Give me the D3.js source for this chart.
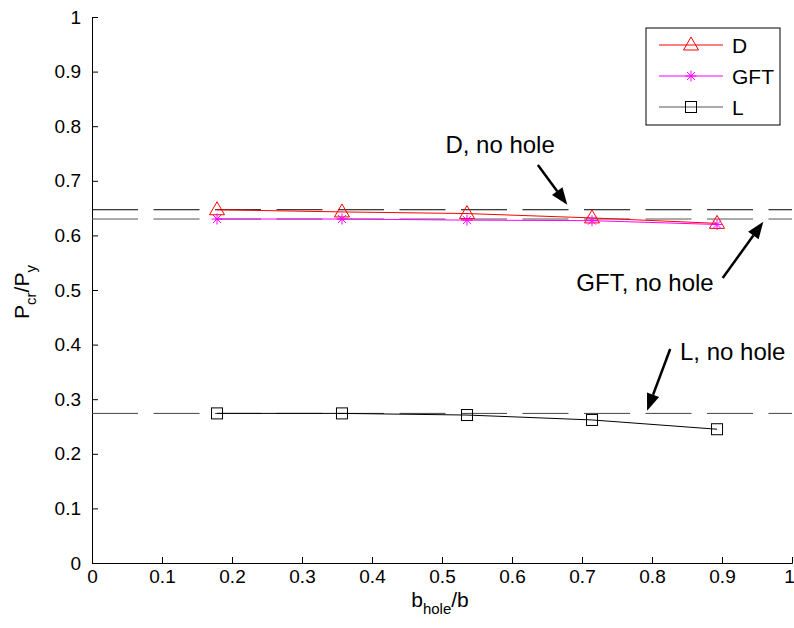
<!DOCTYPE html>
<html><head><meta charset="utf-8">
<script src="https://cdn.jsdelivr.net/npm/d3@7"></script>
<style>body{margin:0;background:#fff}svg{display:block}text{font-family:"Liberation Sans",Arial,sans-serif}</style>
</head><body>
<script>
const xVals = [0.1786, 0.3571, 0.5357, 0.7143, 0.8929];
const dVals = [0.647, 0.643, 0.640, 0.632, 0.622];
const gftVals = [0.630, 0.630, 0.628, 0.627, 0.620];
const lVals = [0.274, 0.274, 0.271, 0.262, 0.245];
const noHole = [{name:"D", v:0.647, color:"#000"}, {name:"GFT", v:0.630, color:"#555"}, {name:"L", v:0.274, color:"#444"}];
const xTicks = [0,0.1,0.2,0.3,0.4,0.5,0.6,0.7,0.8,0.9,1];
const yTicks = [0,0.1,0.2,0.3,0.4,0.5,0.6,0.7,0.8,0.9,1];
const annotations = [
  {text:"D, no hole", tx:0.583, ty:0.766, anchor:"middle", ax0:0.637, ay0:0.729, ax1:0.679, ay1:0.656},
  {text:"GFT, no hole", tx:0.790, ty:0.513, anchor:"middle", ax0:0.901, ay0:0.522, ax1:0.959, ay1:0.625},
  {text:"L, no hole", tx:0.840, ty:0.387, anchor:"start", ax0:0.826, ay0:0.392, ax1:0.793, ay1:0.279}
];

const W=794,H=628;
const svg=d3.select("body").append("svg").attr("width",W).attr("height",H);
const x=d3.scaleLinear().domain([0,1]).range([92,792]);
const y=d3.scaleLinear().domain([0,1]).range([563,17]);

// axes
const gx=svg.append("g").attr("transform","translate(0,563)")
  .call(d3.axisBottom(x).tickValues(xTicks).tickSize(-6).tickPadding(7).tickFormat(d=>d3.format("")(d)));
const gy=svg.append("g").attr("transform","translate(92,0)")
  .call(d3.axisLeft(y).tickValues(yTicks).tickSize(-6).tickPadding(11).tickFormat(d=>d3.format("")(d)));
[gx,gy].forEach(g=>{
  g.select(".domain").attr("stroke","#000").attr("stroke-width",1);
  g.selectAll(".tick line").attr("stroke","#000");
  g.selectAll(".tick text").attr("font-size",19).attr("fill","#000").attr("font-family","Liberation Sans, Arial, sans-serif");
});
gx.selectAll(".tick text").attr("dy","0.71em").filter(d=>d===1).attr("dx",-3);

// dashed no-hole lines
svg.append("g").selectAll("line").data(noHole).join("line")
  .attr("x1",x(0)).attr("x2",x(1)).attr("y1",d=>y(d.v)).attr("y2",d=>y(d.v))
  .attr("stroke",d=>d.color).attr("stroke-width",1).attr("stroke-dasharray","46,15.5");

// series
const series=[
  {name:"D", vals:dVals, color:"#ff0000", marker:"tri"},
  {name:"GFT", vals:gftVals, color:"#ff00ff", marker:"star"},
  {name:"L", vals:lVals, color:"#000000", marker:"sq"}
];
const line=d3.line().x(d=>x(d[0])).y(d=>y(d[1]));
function drawMarker(g,type,cx,cy,color){
  if(type==="tri"){
    g.append("path").attr("d",`M${cx},${cy-8}L${cx+7.5},${cy+5}L${cx-7.5},${cy+5}Z`)
      .attr("fill","none").attr("stroke",color).attr("stroke-width",1);
  } else if(type==="sq"){
    g.append("rect").attr("x",cx-5.5).attr("y",cy-5.5).attr("width",11).attr("height",11)
      .attr("fill","none").attr("stroke",color).attr("stroke-width",1);
  } else {
    const r=5.5,rd=4;
    g.append("path").attr("d",`M${cx},${cy-r}V${cy+r}M${cx-r},${cy}H${cx+r}M${cx-rd},${cy-rd}L${cx+rd},${cy+rd}M${cx-rd},${cy+rd}L${cx+rd},${cy-rd}`)
      .attr("stroke",color).attr("stroke-width",1).attr("fill","none");
  }
}
series.forEach(s=>{
  const pts=xVals.map((xv,i)=>[xv,s.vals[i]]);
  const g=svg.append("g");
  g.append("path").attr("d",line(pts)).attr("fill","none").attr("stroke",s.color).attr("stroke-width",1);
  pts.forEach(p=>drawMarker(g,s.marker,x(p[0]),y(p[1]),s.color));
});

// annotations
function arrow(x0,y0,x1,y1){
  const g=svg.append("g");
  const dx=x1-x0,dy=y1-y0,len=Math.hypot(dx,dy),ux=dx/len,uy=dy/len;
  const hl=17,hw=6.5;
  const bx=x1-ux*hl,by=y1-uy*hl;
  g.append("line").attr("x1",x0).attr("y1",y0).attr("x2",bx).attr("y2",by).attr("stroke","#000").attr("stroke-width",2.5);
  g.append("path").attr("d",`M${x1},${y1}L${bx-uy*hw},${by+ux*hw}L${bx+uy*hw},${by-ux*hw}Z`).attr("fill","#000");
}
annotations.forEach(a=>{
  svg.append("text").attr("x",x(a.tx)).attr("y",y(a.ty)).attr("dy","0.35em").attr("text-anchor",a.anchor)
    .attr("font-size",24).attr("fill","#000").text(a.text);
  arrow(x(a.ax0),y(a.ay0),x(a.ax1),y(a.ay1));
});

// legend
const lg=svg.append("g");
lg.append("rect").attr("x",646).attr("y",28).attr("width",134).attr("height",97).attr("fill","#fff").attr("stroke","#000").attr("stroke-width",1);
series.forEach((s,i)=>{
  const cy=45+i*31;
  lg.append("line").attr("x1",659).attr("x2",723).attr("y1",cy).attr("y2",cy).attr("stroke",s.color==="#000000"?"#555":s.color).attr("stroke-width",1);
  drawMarker(lg,s.marker,691,cy,s.color);
  lg.append("text").attr("x",732).attr("y",cy).attr("dy","0.36em").attr("font-size",21).attr("fill","#000").text(s.name);
});

// axis labels
const xl=svg.append("text").attr("x",440).attr("y",607).attr("text-anchor","middle").attr("font-size",21).attr("fill","#000");
xl.append("tspan").text("b");
xl.append("tspan").attr("font-size",15).attr("dy",7).text("hole");
xl.append("tspan").attr("dy",-7).text("/b");
const yl=svg.append("text").attr("transform","translate(29,292) rotate(-90)").attr("text-anchor","middle").attr("font-size",21).attr("fill","#000");
yl.append("tspan").text("P");
yl.append("tspan").attr("font-size",15).attr("dy",7).text("cr");
yl.append("tspan").attr("dy",-7).text("/P");
yl.append("tspan").attr("font-size",15).attr("dy",7).text("y");
</script>
</body></html>
